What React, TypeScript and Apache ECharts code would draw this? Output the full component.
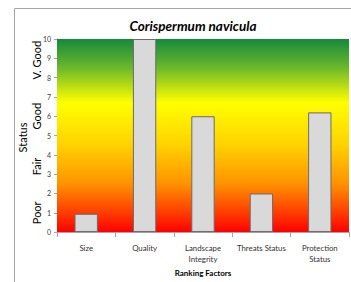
import React, { useEffect, useRef } from "react";
import * as echarts from "echarts";

const title = "Corispermum navicula";
const categories = ["Size", "Quality", "Landscape\nIntegrity", "Threats Status", "Protection\nStatus"];
const values = [0.95, 10, 6, 2, 6.2];
const statusLabels = ["Poor", "Fair", "Good", "V. Good"];
const statusPositions = [1, 3.4, 6, 8.9];
const yMin = 0;
const yMax = 10;
const yInterval = 1;

const FONT = "Lato, 'Open Sans', sans-serif";

export default function App() {
  const ref = useRef<HTMLDivElement>(null);
  useEffect(() => {
    if (!ref.current) return;
    const chart = echarts.init(ref.current, null, { renderer: "svg" });
    const gradient = new echarts.graphic.LinearGradient(0, 0, 0, 1, [
      { offset: 0, color: "#148a3c" },
      { offset: 0.15, color: "#6cb82c" },
      { offset: 0.33, color: "#ffff00" },
      { offset: 0.55, color: "#ffd200" },
      { offset: 0.75, color: "#ff9200" },
      { offset: 0.9, color: "#ff3c00" },
      { offset: 1, color: "#ff0000" },
    ]);
    chart.setOption({
      animation: false,
      backgroundColor: "#ffffff",
      title: {
        text: title,
        left: 188,
        textAlign: "center",
        top: 14,
        textStyle: { fontFamily: FONT, fontSize: 13.5, fontWeight: "bold", fontStyle: "italic", color: "#000" },
      },
      grid: { left: 57, top: 39, right: 2, bottom: 42 },
      xAxis: {
        type: "category",
        data: categories,
        name: "Ranking Factors",
        nameLocation: "middle",
        nameGap: 32,
        nameTextStyle: { fontFamily: FONT, fontSize: 8, fontWeight: "bold", color: "#000" },
        axisLine: { lineStyle: { color: "#a6a6a6" } },
        axisTick: { show: true, alignWithLabel: false, lineStyle: { color: "#a6a6a6" } },
        axisLabel: { fontFamily: FONT, fontSize: 7.8, color: "#333", margin: 10, lineHeight: 11, interval: 0 },
      },
      yAxis: {
        type: "value",
        min: yMin,
        max: yMax,
        interval: yInterval,
        splitLine: { show: false },
        axisLine: { show: true, lineStyle: { color: "#a6a6a6" } },
        axisTick: { show: true, lineStyle: { color: "#a6a6a6" }, length: 3 },
        axisLabel: { fontFamily: FONT, fontSize: 7, color: "#404040", margin: 6 },
      },
      series: [
        {
          type: "bar",
          data: values,
          barWidth: "40%",
          itemStyle: { color: "#d9d9d9", borderColor: "#6b6b6b", borderWidth: 1 },
          markArea: {
            silent: true,
            itemStyle: { color: gradient },
            data: [[{ yAxis: yMin }, { yAxis: yMax }]],
          },
          z: 3,
        },
      ],
    });
    const texts: any[] = statusLabels.map((s, i) => {
      const p = chart.convertToPixel({ yAxisIndex: 0 }, statusPositions[i]);
      return {
        type: "text",
        x: 36,
        y: p,
        rotation: Math.PI / 2,
        style: {
          text: s,
          fontFamily: FONT,
          fontSize: 11,
          fill: "#000",
          align: "center",
          verticalAlign: "middle",
        },
      };
    });
    const midY = chart.convertToPixel({ yAxisIndex: 0 }, 4.9);
    texts.push({
      type: "text",
      x: 22,
      y: midY,
      rotation: Math.PI / 2,
      style: {
        text: "Status",
        fontFamily: FONT,
        fontSize: 11,
        fill: "#000",
        align: "center",
        verticalAlign: "middle",
      },
    });
    texts.push({
      type: "rect",
      shape: { x: 14.5, y: 8.5, width: 400, height: 400 },
      style: { fill: "none", stroke: "#a6a6a6", lineWidth: 1 },
      silent: true,
    });
    chart.setOption({ graphic: texts });
    return () => chart.dispose();
  }, []);
  return (
    <div
      ref={ref}
      style={{ position: "absolute", left: 0, top: 0, width: 351, height: 282 }}
    />
  );
}
